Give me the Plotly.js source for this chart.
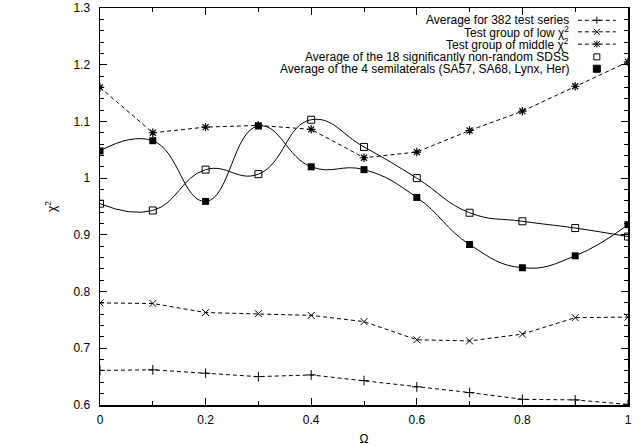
<!DOCTYPE html>
<html><head><meta charset="utf-8">
<script src="https://cdn.plot.ly/plotly-3.0.1.min.js"></script>
<style>html,body{margin:0;padding:0;background:#fff}</style>
</head><body>
<div id="chart" style="width:643px;height:446px"></div>
<script>
const omega  = [0, 0.1, 0.2, 0.3, 0.4, 0.5, 0.6, 0.7, 0.8, 0.9, 1.0];
const avg382 = [0.661, 0.662, 0.656, 0.650, 0.653, 0.643, 0.632, 0.622, 0.610, 0.609, 0.601];
const lowChi = [0.780, 0.779, 0.763, 0.761, 0.758, 0.747, 0.715, 0.713, 0.725, 0.754, 0.755];
const midChi = [1.160, 1.080, 1.090, 1.093, 1.086, 1.036, 1.046, 1.084, 1.118, 1.162, 1.205];
const sdss18 = [0.955, 0.943, 1.015, 1.007, 1.103, 1.055, 1.000, 0.939, 0.924, 0.912, 0.897];
const semi4  = [1.048, 1.066, 0.959, 1.092, 1.020, 1.015, 0.966, 0.883, 0.842, 0.863, 0.918];
const seriesNames = [
  'Average for 382 test series',
  'Test group of low χ<sup>2</sup>',
  'Test group of middle χ<sup>2</sup>',
  'Average of the 18 significantly non-random SDSS',
  'Average of the 4 semilaterals (SA57, SA68, Lynx, Her)'
];
const xTickVals = [0, 0.2, 0.4, 0.6, 0.8, 1];
const yTickVals = [0.6, 0.7, 0.8, 0.9, 1, 1.1, 1.2, 1.3];

const dashPat = '4px,3px';
const black = '#000';

const traces = [
  {x: omega, y: avg382, mode: 'lines+markers', line: {color: black, width: 1, dash: dashPat},
   marker: {symbol: 'cross-thin-open', size: 7, color: black, line: {color: black, width: 1}}},
  {x: omega, y: lowChi, mode: 'lines+markers', line: {color: black, width: 1, dash: dashPat},
   marker: {symbol: 'x-thin-open', size: 7, color: black, line: {color: black, width: 1}}},
  {x: omega, y: midChi, mode: 'lines+markers', line: {color: black, width: 1, dash: dashPat},
   marker: {symbol: 'asterisk-open', size: 7, color: black, line: {color: black, width: 1.2}}},
  {x: omega, y: sdss18, mode: 'lines+markers', line: {color: black, width: 1, shape: 'spline', smoothing: 1.3},
   marker: {symbol: 'square-open', size: 7, color: black, line: {color: black, width: 1}}},
  {x: omega, y: semi4, mode: 'lines+markers', line: {color: black, width: 1, shape: 'spline', smoothing: 1.3},
   marker: {symbol: 'square', size: 7, color: black, line: {color: black, width: 0}}}
];

const legY = [0.969, 0.940, 0.909, 0.877, 0.847];
const legTextX = 0.890;
const legL0 = 0.905, legL1 = 0.977, legM = 0.941;
const annotations = [];
const shapes = [];
function pxShape(type, xa, ya, x0, y0, x1, y1, fill) {
  return {type: type, xref: 'paper', yref: 'paper', xsizemode: 'pixel', ysizemode: 'pixel',
    xanchor: xa, yanchor: ya, x0: x0, x1: x1, y0: y0, y1: y1,
    line: {color: black, width: 1}, fillcolor: fill || 'rgba(0,0,0,0)'};
}
const kinds = ['plus', 'x', 'star', 'sqo', 'sqf'];
seriesNames.forEach((nm, i) => {
  annotations.push({xref: 'paper', yref: 'paper', x: legTextX, y: legY[i], xanchor: 'right', yanchor: 'middle',
    text: nm, showarrow: false, font: {size: 12, color: black}, borderpad: 0});
  const k = kinds[i];
  if (i < 3) {
    shapes.push({type: 'line', xref: 'paper', yref: 'paper', x0: legL0, x1: legL1, y0: legY[i], y1: legY[i],
      line: {color: black, width: 1, dash: dashPat}});
  }
  if (k === 'plus' || k === 'star') {
    shapes.push(pxShape('line', legM, legY[i], -3.5, 0, 3.5, 0));
    shapes.push(pxShape('line', legM, legY[i], 0, -3.5, 0, 3.5));
  }
  if (k === 'x' || k === 'star') {
    shapes.push(pxShape('line', legM, legY[i], -3, -3, 3, 3));
    shapes.push(pxShape('line', legM, legY[i], -3, 3, 3, -3));
  }
  if (k === 'sqo') shapes.push(pxShape('rect', legM, legY[i], -3, -3, 3, 3));
  if (k === 'sqf') shapes.push(pxShape('rect', legM, legY[i], -3.5, -3.5, 3.5, 3.5, black));
});

const layout = {
  width: 643, height: 446,
  margin: {l: 100, r: 15, t: 8, b: 41},
  paper_bgcolor: '#fff', plot_bgcolor: '#fff',
  showlegend: false,
  font: {family: 'Liberation Sans, Arial, sans-serif', size: 12, color: black},
  xaxis: {range: [0, 1], tickvals: xTickVals, ticks: 'inside', ticklen: 7, tickwidth: 1, tickcolor: black,
    showline: true, linewidth: 1.5, linecolor: black, mirror: 'allticks', showgrid: false, zeroline: false,
    minor: {dtick: 0.1, tick0: 0, ticks: 'inside', ticklen: 4, tickcolor: black, showgrid: false},
    tickfont: {size: 12}, ticklabelstandoff: 3,
    title: {text: 'Ω', font: {size: 12}, standoff: 8}},
  yaxis: {range: [0.6, 1.3], tickvals: yTickVals, ticks: 'inside', ticklen: 7, tickwidth: 1, tickcolor: black,
    showline: true, linewidth: 1.5, linecolor: black, mirror: 'allticks', showgrid: false, zeroline: false,
    minor: {dtick: 0.02, tick0: 0.6, ticks: 'inside', ticklen: 4, tickcolor: black, showgrid: false},
    tickfont: {size: 12}, ticklabelstandoff: 6,
    title: {text: 'χ<sup>2</sup>', font: {size: 12}, standoff: 14}},
  annotations: annotations,
  shapes: shapes
};
Plotly.newPlot('chart', traces, layout, {staticPlot: true, displayModeBar: false});
</script>
</body></html>
